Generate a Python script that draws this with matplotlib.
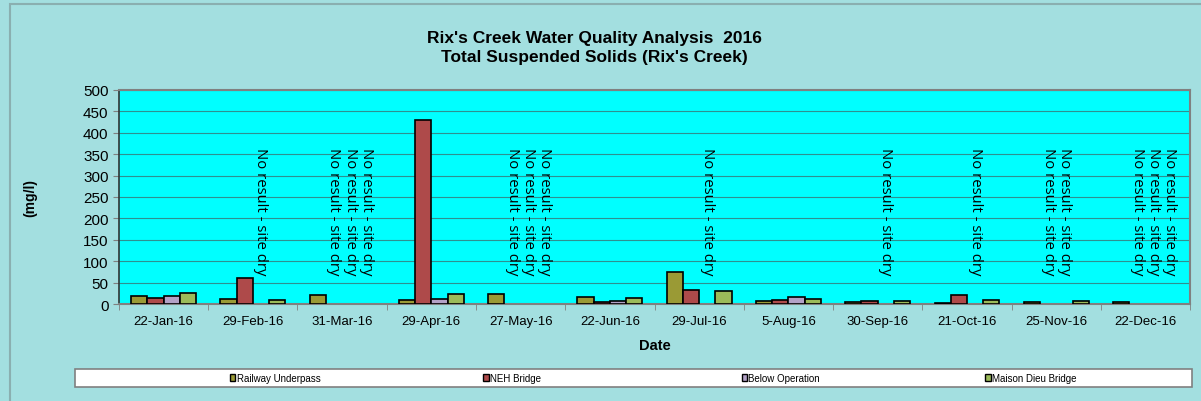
import numpy as np
import matplotlib.pyplot as plt
from matplotlib.patches import Rectangle

plt.rcParams['font.family'] = ['Liberation Sans', 'DejaVu Sans']

dates = ['22-Jan-16', '29-Feb-16', '31-Mar-16', '29-Apr-16', '27-May-16', '22-Jun-16',
         '29-Jul-16', '5-Aug-16', '30-Sep-16', '21-Oct-16', '25-Nov-16', '22-Dec-16']
series = ['Railway Underpass', 'NEH Bridge', 'Below Operation', 'Maison Dieu Bridge']
colors = ['#9A9A35', '#AE4A4A', '#B3A2C7', '#9BBB59']

# None = no result (site dry)
railway = [19, 11, 22, 9, 24, 16, 76, 7, 6, 3, 4, 4]
neh     = [14, 60, None, 430, None, 6, 33, 9, 8, 22, None, None]
below   = [18, None, None, 11, None, 7, None, 16, None, None, None, None]
maison  = [25, 9, None, 24, None, 15, 30, 12, 7, 9, 8, None]
values = [railway, neh, below, maison]

dry_label = 'No result - site dry'

fig = plt.figure(figsize=(12.01, 4.02), dpi=100)
fig.patch.set_facecolor('#A3DFE0')
ax = fig.add_axes([0.099, 0.241, 0.892, 0.533])
ax.set_facecolor('#00FFFF')

# chart outer border
fig.patches.append(Rectangle((0.0083, -0.05), 1.2, 1.0376, transform=fig.transFigure,
                             facecolor='none', edgecolor='#8AAFB0', linewidth=1.5))

x = np.arange(len(dates))
w = 1 / 5.5
for i, (name, vals, c) in enumerate(zip(series, values, colors)):
    pos = x + (i - 1.5) * w
    px = [p for p, v in zip(pos, vals) if v is not None]
    h = [v for v in vals if v is not None]
    ax.bar(px, h, width=w, color=c, edgecolor='black', linewidth=1.2, zorder=3)
    for p, v in zip(pos, vals):
        if v is None:
            ax.text(p, 68, dry_label, rotation=-90, ha='center', va='bottom',
                    fontsize=10.7, family=['Open Sans', 'DejaVu Sans'], zorder=4)

ax.set_xlim(-0.5, len(dates) - 0.5)
ax.set_ylim(0, 500)
ax.set_yticks(np.arange(0, 501, 50))
ax.yaxis.grid(True, color='#2E9090', linewidth=0.8, zorder=1)
ax.set_xticks(x)
ax.set_xticklabels(dates, fontsize=9.5)
ax.set_xticks(np.arange(-0.5, len(dates)), minor=True)
ax.tick_params(axis='x', which='major', length=0, pad=8)
ax.tick_params(axis='x', which='minor', length=4, color='#808080')
ax.tick_params(axis='y', labelsize=11, length=4, color='#808080')
for s in ['top', 'right', 'bottom']:
    ax.spines[s].set_color('#808080')
    ax.spines[s].set_linewidth(1.5)
ax.spines['left'].set_color('#333333')
ax.spines['left'].set_linewidth(1.2)

ax.set_xlabel('Date', fontsize=10.5, fontweight='bold', labelpad=8)
ax.set_ylabel('(mg/l)', fontsize=10, fontweight='bold', labelpad=33)

fig.text(0.495, 0.88, "Rix's Creek Water Quality Analysis  2016\nTotal Suspended Solids (Rix's Creek)",
         ha='center', va='center', fontsize=12.5, fontweight='bold', linespacing=1.35)

# legend box drawn by hand so entries sit where the original puts them
fig.patches.append(Rectangle((0.0625, 0.035), 0.93, 0.045, transform=fig.transFigure,
                             facecolor='white', edgecolor='#808080', linewidth=1.2))
leg_x = [0.197, 0.408, 0.623, 0.826]
for lx, name, c in zip(leg_x, series, colors):
    fig.patches.append(Rectangle((lx - 0.0055, 0.049), 0.0045, 0.017, transform=fig.transFigure,
                                 facecolor=c, edgecolor='black', linewidth=1.0))
    fig.text(lx, 0.0575, name, ha='left', va='center', fontsize=7)

fig.savefig('out.png', dpi=100, facecolor=fig.get_facecolor())
